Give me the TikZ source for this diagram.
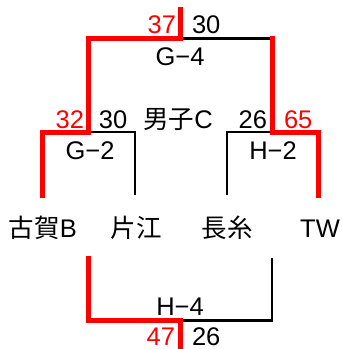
\documentclass[tikz,border=0pt]{standalone}
\usepackage{fontspec}
\setmainfont{Liberation Sans}
\newfontfamily\cjk{Noto Sans CJK JP}
\begin{document}
\begin{tikzpicture}[x=1pt,y=-1pt,
  lbl/.style={inner sep=0pt,outer sep=0pt,font=\fontsize{25.5}{27}\selectfont},
  win/.style={lbl,text=red},
  redline/.style={draw=red,line width=5pt,line cap=rect,line join=miter},
  blackline/.style={draw=black,line width=2.6pt,line join=miter}]
\useasboundingbox (0,0) rectangle (343,349);
% team names
\node[lbl,anchor=base] (koga) at (43,237) {{\cjk 古賀}B};
\node[lbl,anchor=base] (katae) at (136,237) {\cjk 片江};
\node[lbl,anchor=base] (nagaito) at (227,237) {\cjk 長糸};
\node[lbl,anchor=base] (tw) at (320,237) {TW};
% coordinates
\coordinate (a1) at (42.5,195);
\coordinate (a2) at (135,195);
\coordinate (a3) at (227,195);
\coordinate (a4) at (318,195);
\coordinate (g2) at (88.5,132);
\coordinate (h2) at (272,132);
\coordinate (g4) at (180,38.5);
\coordinate (top) at (180,9);
\coordinate (b1) at (88.5,258);
\coordinate (b2) at (272,258);
\coordinate (h4) at (180,320.5);
\coordinate (bot) at (180,352);
% black (losing) lines
\draw[blackline] (g2) -| (a2);
\draw[blackline] (h2) -| (a3);
\draw[blackline] (g4) -| (h2);
\draw[blackline] (h4) -| (b2);
% red (winning) lines
\draw[redline] (a1) |- (g2) |- (g4) -- (top);
\draw[redline] (a4) |- (h2) -- (272,38.5);
\draw[redline] (b1) |- (h4) -- (bot);
% match labels
\node[lbl,anchor=base] (lg4) at (180,65) {G−4};
\node[lbl,anchor=base] (lg2) at (90,159) {G−2};
\node[lbl,anchor=base] (lh2) at (273,159) {H−2};
\node[lbl,anchor=base] (lh4) at (180,315) {H−4};
\node[lbl,anchor=base] (title) at (178,128) {{\cjk 男子}C};
% scores
\node[win,anchor=base east] (s1) at (176,33) {37};
\node[lbl,anchor=base west] (s2) at (192,33) {30};
\node[win,anchor=base east] (s3) at (84,128) {32};
\node[lbl,anchor=base west] (s4) at (99,128) {30};
\node[lbl,anchor=base east] (s5) at (267,128) {26};
\node[win,anchor=base west] (s6) at (284,128) {65};
\node[win,anchor=base east] (s7) at (175,345) {47};
\node[lbl,anchor=base west] (s8) at (192,345) {26};
\end{tikzpicture}
\end{document}
